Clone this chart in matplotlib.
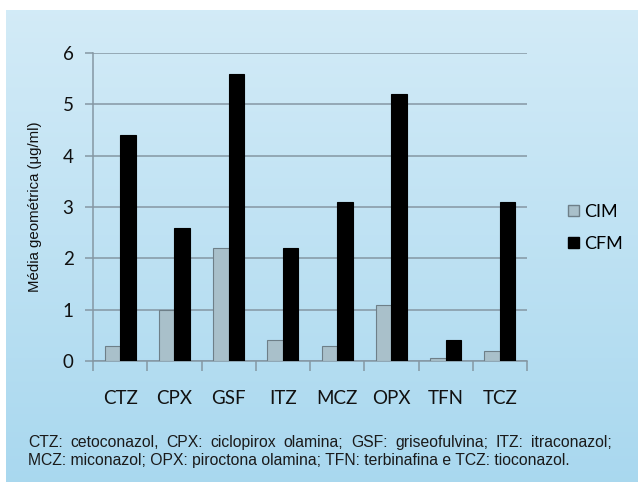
import numpy as np
import matplotlib
matplotlib.use("Agg")
import matplotlib.pyplot as plt
from matplotlib.patches import Patch

categorias = ["CTZ", "CPX", "GSF", "ITZ", "MCZ", "OPX", "TFN", "TCZ"]
cim = [0.3, 1.0, 2.2, 0.4, 0.3, 1.1, 0.05, 0.2]
cfm = [4.4, 2.6, 5.6, 2.2, 3.1, 5.2, 0.4, 3.1]
linha1 = "CTZ: cetoconazol, CPX: ciclopirox olamina; GSF: griseofulvina; ITZ: itraconazol;"
linha2 = "MCZ: miconazol; OPX: piroctona olamina; TFN: terbinafina e TCZ: tioconazol."

W, H = 638, 482
fig = plt.figure(figsize=(W / 100, H / 100), dpi=100)
fig.patch.set_facecolor("white")

# fundo azul em degradê
bg = fig.add_axes([6 / W, 0, 1 - 6 / W, (H - 10) / H])
top = np.array([0.827, 0.922, 0.969])
bot = np.array([0.663, 0.847, 0.937])
t = np.linspace(0, 1, 256)[:, None]
grad = (top * (1 - t) + bot * t)[:, None, :]
bg.imshow(grad, aspect="auto", extent=[0, 1, 0, 1])
bg.axis("off")

ax = fig.add_axes([93 / W, 121 / H, 434 / W, 308 / H])
ax.set_facecolor("none")
x = np.arange(len(categorias))
w = 1 / 3.5
ax.bar(x - w / 2, cim, w, color="#a9c0ca", edgecolor="#6e7f88", linewidth=0.8, zorder=3)
ax.bar(x + w / 2, cfm, w, color="black", edgecolor="black", linewidth=0.8, zorder=3)

ax.set_xlim(-0.5, len(categorias) - 0.5)
ax.set_ylim(0, 6)
ax.set_yticks(range(7))
ax.yaxis.grid(True, color="#8597a3", linewidth=1.1, zorder=0)
grid_col = "#8597a3"
for s in ["top", "right"]:
    ax.spines[s].set_visible(False)
for s in ["left", "bottom"]:
    ax.spines[s].set_color(grid_col)
    ax.spines[s].set_linewidth(1.1)

ax.set_xticks(x)
ax.set_xticklabels(categorias, family="Lato", fontsize=13.5, color="#111111")
ax.set_xticks(np.arange(-0.5, len(categorias)), minor=True)
ax.tick_params(axis="x", which="major", length=0, pad=21)
ax.tick_params(axis="x", which="minor", length=7, color=grid_col, width=1.1, direction="out")
ax.tick_params(axis="y", length=6, color=grid_col, width=1.1, pad=8)
for lbl in ax.get_yticklabels():
    lbl.set_family("Lato")
    lbl.set_fontsize(13.5)
    lbl.set_color("#111111")
ax.set_ylabel("Média geométrica (μg/ml)", family="Liberation Sans", fontsize=10.8,
              color="#111111", labelpad=15)

handles = [Patch(facecolor="#a9c0ca", edgecolor="#6e7f88", label="CIM"),
           Patch(facecolor="black", edgecolor="black", label="CFM")]
leg = fig.legend(handles=handles, loc="center left", bbox_to_anchor=(552 / W, 1 - 228 / H),
                 frameon=False, prop={"family": "Lato", "size": 13},
                 handlelength=0.6, handleheight=0.6, handletextpad=0.3, labelspacing=0.9)

# legenda de abreviaturas, primeira linha justificada
fig.canvas.draw()
r = fig.canvas.get_renderer()
x0, x1 = 28 / W, 612 / W
fp = dict(family="Liberation Sans", fontsize=11.3, color="#1a1a1a", va="baseline")
palavras = linha1.split(" ")
arts = [fig.text(0, 1 - 447 / H, p, **fp) for p in palavras]
larg = [a.get_window_extent(r).width / W for a in arts]
esp = (x1 - x0 - sum(larg)) / (len(palavras) - 1)
pos = x0
for a, lw in zip(arts, larg):
    a.set_x(pos)
    pos += lw + esp
fig.text(x0, 1 - 465 / H, linha2, **fp)

fig.savefig("out.png", dpi=100)
